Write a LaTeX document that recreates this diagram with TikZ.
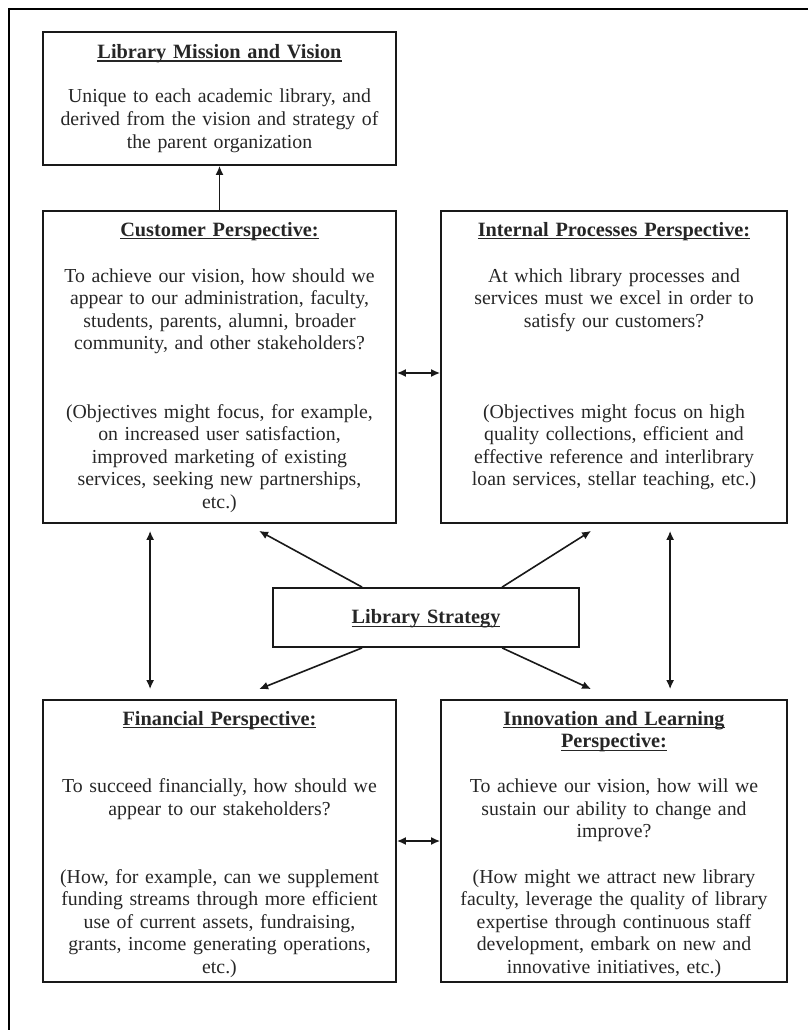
\documentclass[tikz,border=0pt]{standalone}
\usepackage{fontspec}
\setmainfont{Liberation Serif}
\usetikzlibrary{arrows.meta,calc}

% bold heading with a Word-style underline that runs through the descenders
\newsavebox\hdbox
\newcommand{\hd}[1]{\leavevmode\sbox\hdbox{\textbf{#1}}\rlap{\usebox\hdbox}\rule[-3.4pt]{\wd\hdbox}{1.2pt}}

\tikzset{
  frame/.style={line width=1.8pt, black},
  box/.style={draw=black!90, line width=1.8pt, rectangle, inner sep=0pt},
  txt/.style={anchor=base, inner sep=0pt, text width=350pt, align=center,
              text=black!85, font=\fontsize{19.8}{22.5}\selectfont},
  head/.style={txt, font=\fontsize{20.3}{22.5}\selectfont},
  tip/.style={Latex[length=9pt,width=8pt]},
  link/.style={line width=1.6pt, black!90, -{Latex[length=9pt,width=8pt]}},
  twoway/.style={line width=1.6pt, black!90, {Latex[length=9pt,width=8pt]}-{Latex[length=9pt,width=8pt]}}
}

\begin{document}
\begin{tikzpicture}[x=1pt,y=-1pt]
\useasboundingbox (0,0) rectangle (808,1030);

% page frame (top and left edges)
\draw[frame] (8,9) -- (808,9);
\draw[frame] (8.6,8) -- (8.6,1030);

% boxes
\node[box, minimum width=353pt, minimum height=133pt] (mis)   at (219.5,98.5) {};
\node[box, minimum width=353pt, minimum height=312pt] (cust)  at (219.5,367) {};
\node[box, minimum width=346pt, minimum height=312pt] (int)   at (614,367) {};
\node[box, minimum width=306pt, minimum height=59pt]  (strat) at (426,617.5) {};
\node[box, minimum width=353pt, minimum height=282pt] (fin)   at (219.5,841) {};
\node[box, minimum width=346pt, minimum height=282pt] (inn)   at (614,841) {};

% Library Mission and Vision
\node[head] (misH) at (219.5,58.3) {\hd{Library Mission and Vision}};
\node[txt] (misT) at (219.5,103) {Unique to each academic library, and\\ derived from the vision and strategy of\\ the parent organization};

% Customer Perspective
\node[head] (custH) at (219.5,236) {\hd{Customer Perspective:}};
\node[txt] (custA) at (219.5,282) {To achieve our vision, how should we\\ appear to our administration, faculty,\\ students, parents, alumni, broader\\ community, and other stakeholders?};
\node[txt] (custB) at (219.5,418) {(Objectives might focus, for example,\\ on increased user satisfaction,\\ improved marketing of existing\\ services, seeking new partnerships,\\ etc.)};

% Internal Processes Perspective
\node[head] (intH) at (614,236) {\hd{Internal Processes Perspective:}};
\node[txt] (intA) at (614,282) {At which library processes and\\ services must we excel in order to\\ satisfy our customers?};
\node[txt] (intB) at (614,418) {(Objectives might focus on high\\ quality collections, efficient and\\ effective reference and interlibrary\\ loan services, stellar teaching, etc.)};

% Library Strategy
\node[head] (stratH) at (426,623.3) {\hd{Library Strategy}};

% Financial Perspective
\node[head] (finH) at (219.5,725) {\hd{Financial Perspective:}};
\node[txt] (finA) at (219.5,792.5) {To succeed financially, how should we\\ appear to our stakeholders?};
\node[txt] (finB) at (219.5,883) {(How, for example, can we supplement\\ funding streams through more efficient\\ use of current assets, fundraising,\\ grants, income generating operations,\\ etc.)};

% Innovation and Learning Perspective
\node[head] (innH) at (614,725) {\hd{Innovation and Learning}};
\node[head] (innH2) at (614,747.5) {\hd{Perspective:}};
\node[txt] (innA) at (614,792.5) {To achieve our vision, how will we\\ sustain our ability to change and\\ improve?};
\node[txt] (innB) at (614,883) {(How might we attract new library\\ faculty, leverage the quality of library\\ expertise through continuous staff\\ development, embark on new and\\ innovative initiatives, etc.)};

% connectors
\draw[link] (cust.north) -- (mis.south);
\draw[twoway] ($(cust.east)+(0,6)$) -- ($(int.west)+(0,6)$);
\draw[twoway] (fin.east) -- (inn.west);

\draw[link] ($(strat.north west)+(90,0)$)  -- ($(cust.south west)+(217,7)$);
\draw[link] ($(strat.north west)+(230,0)$) -- ($(int.south west)+(151,7)$);
\draw[link] ($(strat.south west)+(90,0)$)  -- ($(fin.north west)+(217,-10)$);
\draw[link] ($(strat.south west)+(230,0)$) -- ($(inn.north west)+(151,-10)$);

\draw[twoway] ($(cust.south west)+(108,7)$) -- ($(fin.north west)+(108,-10)$);
\draw[twoway] ($(int.south west)+(230,7)$)  -- ($(inn.north west)+(230,-10)$);
\end{tikzpicture}
\end{document}
